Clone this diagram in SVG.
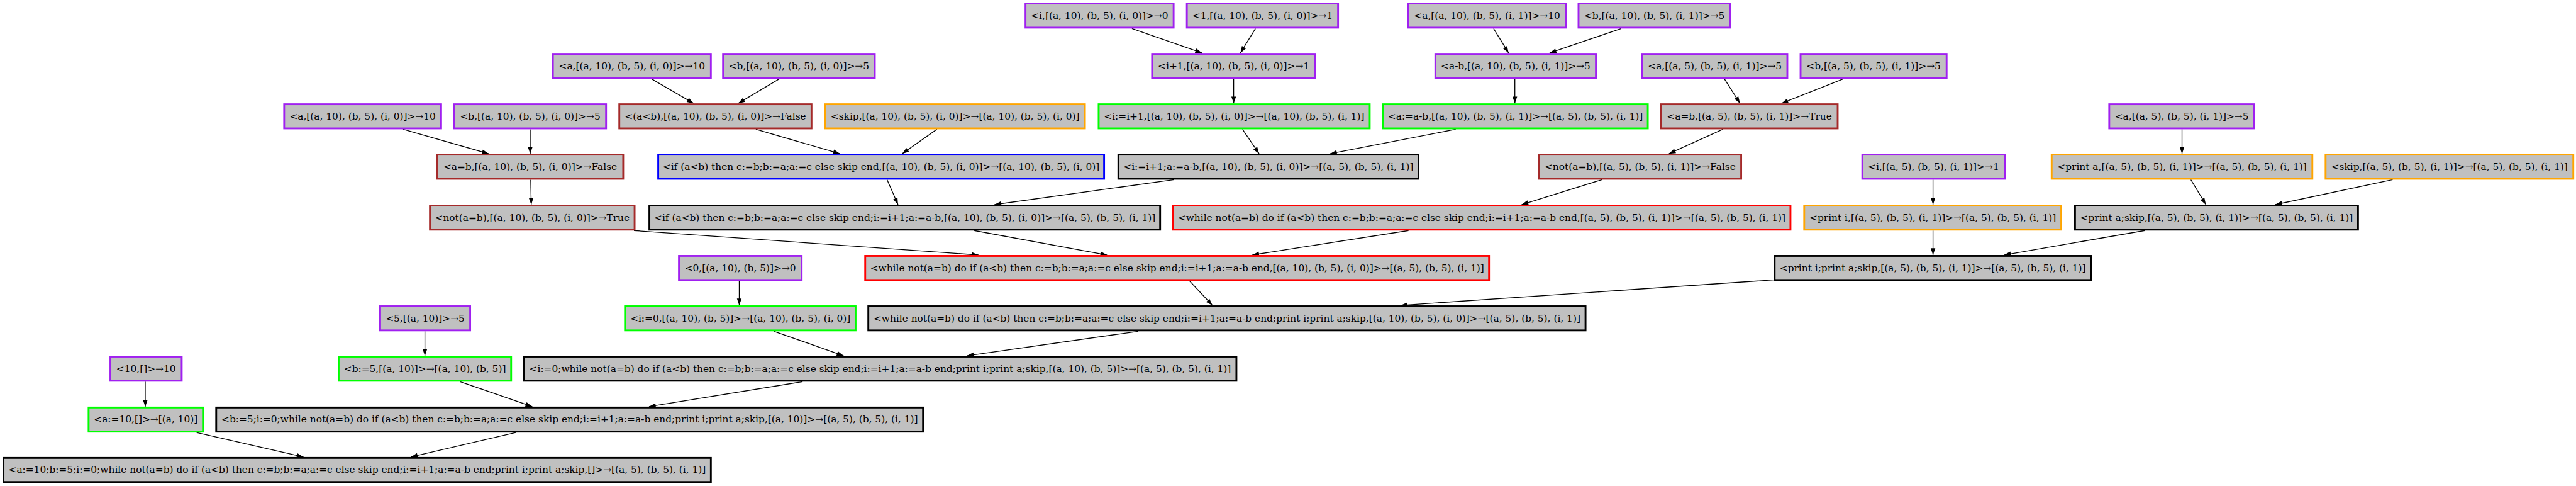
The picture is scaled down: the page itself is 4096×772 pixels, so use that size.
<svg xmlns="http://www.w3.org/2000/svg" width="4096" height="772" viewBox="0 0 4096 772">
<style>
.n rect{fill:#c0c0c0;stroke-width:3.5}
.n text{font-family:"DejaVu Serif","Liberation Serif",serif;font-size:18.67px;text-anchor:middle;fill:#000}
.purple rect{stroke:#a020f0}
.brown rect{stroke:#a52a2a}
.orange rect{stroke:#ffa500}
.green rect{stroke:#00ff00}
.blue rect{stroke:#0000ff}
.red rect{stroke:#ff0000}
.black rect{stroke:#000000}
#edges line{stroke:#000;stroke-width:1.6;marker-end:url(#ah)}
</style>
<defs>
<marker id="ah" markerUnits="userSpaceOnUse" markerWidth="14" markerHeight="10" refX="13" refY="5" orient="auto" overflow="visible">
<path d="M0,0.5 L13,5 L0,9.5 z" fill="#000"/>
</marker>
</defs>
<rect width="4096" height="772" fill="#fff"/>
<g transform="scale(0.8249)">
<g id="edges">
<line x1="2182" y1="55" x2="2317" y2="102"/>
<line x1="2420" y1="55" x2="2391" y2="102"/>
<line x1="2879" y1="55" x2="2908" y2="102"/>
<line x1="3125" y1="55" x2="2987" y2="102"/>
<line x1="1256" y1="152" x2="1337" y2="199"/>
<line x1="1502" y1="152" x2="1423" y2="199"/>
<line x1="2378" y1="152" x2="2378" y2="199"/>
<line x1="2920" y1="152" x2="2920" y2="199"/>
<line x1="3324" y1="152" x2="3354" y2="199"/>
<line x1="3553" y1="152" x2="3434" y2="199"/>
<line x1="777" y1="249" x2="942" y2="296"/>
<line x1="1022" y1="249" x2="1022" y2="296"/>
<line x1="1457" y1="249" x2="1619" y2="296"/>
<line x1="1806" y1="249" x2="1739" y2="296"/>
<line x1="2395" y1="249" x2="2427" y2="296"/>
<line x1="2806" y1="249" x2="2564" y2="296"/>
<line x1="3321" y1="249" x2="3217" y2="296"/>
<line x1="4206" y1="249" x2="4206" y2="296"/>
<line x1="1023" y1="346" x2="1024" y2="394"/>
<line x1="1710" y1="346" x2="1731" y2="394"/>
<line x1="2263" y1="346" x2="1917" y2="394"/>
<line x1="3088" y1="346" x2="2933" y2="394"/>
<line x1="3726" y1="346" x2="3726" y2="394"/>
<line x1="4223" y1="346" x2="4252" y2="394"/>
<line x1="4612" y1="346" x2="4386" y2="394"/>
<line x1="1222" y1="444" x2="1886" y2="491"/>
<line x1="1878" y1="444" x2="2134" y2="491"/>
<line x1="2715" y1="444" x2="2414" y2="491"/>
<line x1="3726" y1="444" x2="3726" y2="491"/>
<line x1="4134" y1="444" x2="3863" y2="491"/>
<line x1="1425" y1="541" x2="1425" y2="588"/>
<line x1="2293" y1="541" x2="2337" y2="588"/>
<line x1="3419" y1="539" x2="2700" y2="588"/>
<line x1="819" y1="638" x2="819" y2="685"/>
<line x1="1492" y1="638" x2="1626" y2="685"/>
<line x1="2194" y1="638" x2="1864" y2="685"/>
<line x1="280" y1="735" x2="280" y2="783"/>
<line x1="887" y1="735" x2="1026" y2="783"/>
<line x1="1547" y1="735" x2="1251" y2="783"/>
<line x1="379" y1="833" x2="585" y2="880"/>
<line x1="994" y1="833" x2="792" y2="880"/>
</g>
<g id="N1a" class="n purple"><rect x="1976.75" y="6.75" width="285.5" height="46.5"/><text x="2119.5" y="36">&lt;i,[(a, 10), (b, 5), (i, 0)]&gt;→0</text></g>
<g id="N1b" class="n purple"><rect x="2287.75" y="6.75" width="291.5" height="46.5"/><text x="2433.5" y="36">&lt;1,[(a, 10), (b, 5), (i, 0)]&gt;→1</text></g>
<g id="N1c" class="n purple"><rect x="2714.75" y="6.75" width="303.5" height="46.5"/><text x="2866.5" y="36">&lt;a,[(a, 10), (b, 5), (i, 1)]&gt;→10</text></g>
<g id="N1d" class="n purple"><rect x="3042.75" y="6.75" width="292.5" height="46.5"/><text x="3189" y="36">&lt;b,[(a, 10), (b, 5), (i, 1)]&gt;→5</text></g>
<g id="N2a" class="n purple"><rect x="1065.75" y="103.75" width="304.5" height="46.5"/><text x="1218" y="133">&lt;a,[(a, 10), (b, 5), (i, 0)]&gt;→10</text></g>
<g id="N2b" class="n purple"><rect x="1393.75" y="103.75" width="292.5" height="46.5"/><text x="1540" y="133">&lt;b,[(a, 10), (b, 5), (i, 0)]&gt;→5</text></g>
<g id="N2c" class="n purple"><rect x="2220.75" y="103.75" width="314.5" height="46.5"/><text x="2378" y="133">&lt;i+1,[(a, 10), (b, 5), (i, 0)]&gt;→1</text></g>
<g id="N2d" class="n purple"><rect x="2766.75" y="103.75" width="309.5" height="46.5"/><text x="2921.5" y="133">&lt;a-b,[(a, 10), (b, 5), (i, 1)]&gt;→5</text></g>
<g id="N2e" class="n purple"><rect x="3165.75" y="103.75" width="279.5" height="46.5"/><text x="3305.5" y="133">&lt;a,[(a, 5), (b, 5), (i, 1)]&gt;→5</text></g>
<g id="N2f" class="n purple"><rect x="3470.75" y="103.75" width="281.5" height="46.5"/><text x="3611.5" y="133">&lt;b,[(a, 5), (b, 5), (i, 1)]&gt;→5</text></g>
<g id="N3a" class="n purple"><rect x="547.75" y="200.75" width="302.5" height="46.5"/><text x="699" y="230">&lt;a,[(a, 10), (b, 5), (i, 0)]&gt;→10</text></g>
<g id="N3b" class="n purple"><rect x="875.75" y="200.75" width="292.5" height="46.5"/><text x="1022" y="230">&lt;b,[(a, 10), (b, 5), (i, 0)]&gt;→5</text></g>
<g id="N3c" class="n brown"><rect x="1193.75" y="200.75" width="370.5" height="46.5"/><text x="1379" y="230">&lt;(a&lt;b),[(a, 10), (b, 5), (i, 0)]&gt;→False</text></g>
<g id="N3d" class="n orange"><rect x="1590.75" y="200.75" width="500.5" height="46.5"/><text x="1841" y="230">&lt;skip,[(a, 10), (b, 5), (i, 0)]&gt;→[(a, 10), (b, 5), (i, 0)]</text></g>
<g id="N3e" class="n green"><rect x="2117.75" y="200.75" width="522.5" height="46.5"/><text x="2379" y="230">&lt;i:=i+1,[(a, 10), (b, 5), (i, 0)]&gt;→[(a, 10), (b, 5), (i, 1)]</text></g>
<g id="N3f" class="n green"><rect x="2665.75" y="200.75" width="510.5" height="46.5"/><text x="2921" y="230">&lt;a:=a-b,[(a, 10), (b, 5), (i, 1)]&gt;→[(a, 5), (b, 5), (i, 1)]</text></g>
<g id="N3g" class="n brown"><rect x="3201.75" y="200.75" width="340.5" height="46.5"/><text x="3372" y="230">&lt;a=b,[(a, 5), (b, 5), (i, 1)]&gt;→True</text></g>
<g id="N3h" class="n purple"><rect x="4065.75" y="200.75" width="279.5" height="46.5"/><text x="4205.5" y="230">&lt;a,[(a, 5), (b, 5), (i, 1)]&gt;→5</text></g>
<g id="N4a" class="n brown"><rect x="842.75" y="297.75" width="358.5" height="46.5"/><text x="1022" y="327">&lt;a=b,[(a, 10), (b, 5), (i, 0)]&gt;→False</text></g>
<g id="N4b" class="n blue"><rect x="1268.75" y="297.75" width="859.5" height="46.5"/><text x="1698.5" y="327">&lt;if (a&lt;b) then c:=b;b:=a;a:=c else skip end,[(a, 10), (b, 5), (i, 0)]&gt;→[(a, 10), (b, 5), (i, 0)]</text></g>
<g id="N4c" class="n black"><rect x="2155.75" y="297.75" width="578.5" height="46.5"/><text x="2445" y="327">&lt;i:=i+1;a:=a-b,[(a, 10), (b, 5), (i, 0)]&gt;→[(a, 5), (b, 5), (i, 1)]</text></g>
<g id="N4d" class="n brown"><rect x="2966.75" y="297.75" width="389.5" height="46.5"/><text x="3161.5" y="327">&lt;not(a=b),[(a, 5), (b, 5), (i, 1)]&gt;→False</text></g>
<g id="N4e" class="n purple"><rect x="3589.75" y="297.75" width="274.5" height="46.5"/><text x="3727" y="327">&lt;i,[(a, 5), (b, 5), (i, 1)]&gt;→1</text></g>
<g id="N4f" class="n orange"><rect x="3954.75" y="297.75" width="502.5" height="46.5"/><text x="4206" y="327">&lt;print a,[(a, 5), (b, 5), (i, 1)]&gt;→[(a, 5), (b, 5), (i, 1)]</text></g>
<g id="N4g" class="n orange"><rect x="4482.75" y="297.75" width="477.5" height="46.5"/><text x="4721.5" y="327">&lt;skip,[(a, 5), (b, 5), (i, 1)]&gt;→[(a, 5), (b, 5), (i, 1)]</text></g>
<g id="N5a" class="n brown"><rect x="828.75" y="395.75" width="394.5" height="46.5"/><text x="1026" y="425">&lt;not(a=b),[(a, 10), (b, 5), (i, 0)]&gt;→True</text></g>
<g id="N5b" class="n black"><rect x="1251.75" y="395.75" width="984.5" height="46.5"/><text x="1744" y="425">&lt;if (a&lt;b) then c:=b;b:=a;a:=c else skip end;i:=i+1;a:=a-b,[(a, 10), (b, 5), (i, 0)]&gt;→[(a, 5), (b, 5), (i, 1)]</text></g>
<g id="N5c" class="n red"><rect x="2260.75" y="395.75" width="1190.5" height="46.5"/><text x="2856" y="425">&lt;while not(a=b) do if (a&lt;b) then c:=b;b:=a;a:=c else skip end;i:=i+1;a:=a-b end,[(a, 5), (b, 5), (i, 1)]&gt;→[(a, 5), (b, 5), (i, 1)]</text></g>
<g id="N5d" class="n orange"><rect x="3477.75" y="395.75" width="495.5" height="46.5"/><text x="3725.5" y="425">&lt;print i,[(a, 5), (b, 5), (i, 1)]&gt;→[(a, 5), (b, 5), (i, 1)]</text></g>
<g id="N5e" class="n black"><rect x="3999.75" y="395.75" width="545.5" height="46.5"/><text x="4272.5" y="425">&lt;print a;skip,[(a, 5), (b, 5), (i, 1)]&gt;→[(a, 5), (b, 5), (i, 1)]</text></g>
<g id="N6a" class="n purple"><rect x="1308.75" y="492.75" width="236.5" height="46.5"/><text x="1427" y="522">&lt;0,[(a, 10), (b, 5)]&gt;→0</text></g>
<g id="N6b" class="n red"><rect x="1667.75" y="492.75" width="1202.5" height="46.5"/><text x="2269" y="522">&lt;while not(a=b) do if (a&lt;b) then c:=b;b:=a;a:=c else skip end;i:=i+1;a:=a-b end,[(a, 10), (b, 5), (i, 0)]&gt;→[(a, 5), (b, 5), (i, 1)]</text></g>
<g id="N6c" class="n black"><rect x="3420.75" y="492.75" width="609.5" height="46.5"/><text x="3725.5" y="522">&lt;print i;print a;skip,[(a, 5), (b, 5), (i, 1)]&gt;→[(a, 5), (b, 5), (i, 1)]</text></g>
<g id="N7a" class="n purple"><rect x="732.75" y="589.75" width="173.5" height="46.5"/><text x="819.5" y="619">&lt;5,[(a, 10)]&gt;→5</text></g>
<g id="N7b" class="n green"><rect x="1204.75" y="589.75" width="444.5" height="46.5"/><text x="1427" y="619">&lt;i:=0,[(a, 10), (b, 5)]&gt;→[(a, 10), (b, 5), (i, 0)]</text></g>
<g id="N7c" class="n black"><rect x="1673.75" y="589.75" width="1382.5" height="46.5"/><text x="2365" y="619">&lt;while not(a=b) do if (a&lt;b) then c:=b;b:=a;a:=c else skip end;i:=i+1;a:=a-b end;print i;print a;skip,[(a, 10), (b, 5), (i, 0)]&gt;→[(a, 5), (b, 5), (i, 1)]</text></g>
<g id="N8a" class="n purple"><rect x="212.75" y="686.75" width="137.5" height="46.5"/><text x="281.5" y="716">&lt;10,[]&gt;→10</text></g>
<g id="N8b" class="n green"><rect x="652.75" y="686.75" width="332.5" height="46.5"/><text x="819" y="716">&lt;b:=5,[(a, 10)]&gt;→[(a, 10), (b, 5)]</text></g>
<g id="N8c" class="n black"><rect x="1009.75" y="686.75" width="1373.5" height="46.5"/><text x="1696.5" y="716">&lt;i:=0;while not(a=b) do if (a&lt;b) then c:=b;b:=a;a:=c else skip end;i:=i+1;a:=a-b end;print i;print a;skip,[(a, 10), (b, 5)]&gt;→[(a, 5), (b, 5), (i, 1)]</text></g>
<g id="N9a" class="n green"><rect x="170.75" y="784.75" width="220.5" height="46.5"/><text x="281" y="814">&lt;a:=10,[]&gt;→[(a, 10)]</text></g>
<g id="N9b" class="n black"><rect x="416.75" y="784.75" width="1362.5" height="46.5"/><text x="1098" y="814">&lt;b:=5;i:=0;while not(a=b) do if (a&lt;b) then c:=b;b:=a;a:=c else skip end;i:=i+1;a:=a-b end;print i;print a;skip,[(a, 10)]&gt;→[(a, 5), (b, 5), (i, 1)]</text></g>
<g id="N10" class="n black"><rect x="6.75" y="881.75" width="1363.5" height="46.5"/><text x="688.5" y="911">&lt;a:=10;b:=5;i:=0;while not(a=b) do if (a&lt;b) then c:=b;b:=a;a:=c else skip end;i:=i+1;a:=a-b end;print i;print a;skip,[]&gt;→[(a, 5), (b, 5), (i, 1)]</text></g>
</g>
</svg>
